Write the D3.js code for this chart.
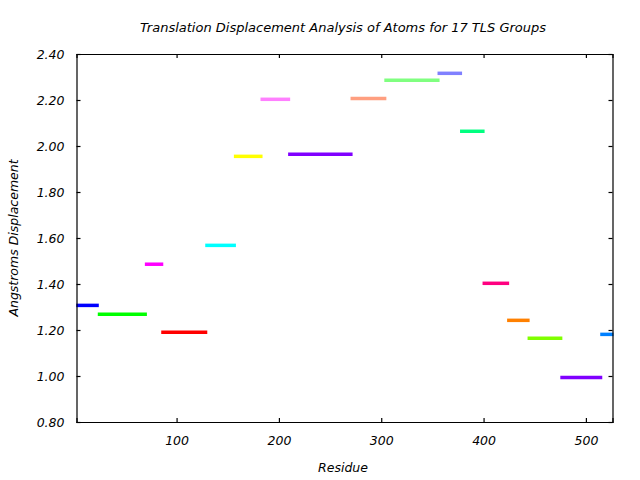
<!DOCTYPE html>
<html><head><meta charset="utf-8">
<script src="https://cdn.jsdelivr.net/npm/d3@7"></script>
<style>body{margin:0;background:#fff}svg{display:block}text{font-family:"DejaVu Sans",sans-serif;font-style:italic;fill:#000}</style>
</head><body>
<script>
const groupStart = [2, 23, 69, 85, 128, 156, 182, 209, 270, 303, 355, 377, 399, 423, 443, 475, 514];
const groupEnd   = [24, 71, 87, 130, 158, 184, 211, 272, 305, 357, 379, 401, 425, 445, 477, 516, 527];
const displacement = [1.307, 1.268, 1.486, 1.19, 1.568, 1.955, 2.203, 1.964, 2.207, 2.286, 2.316, 2.064, 1.403, 1.242, 1.164, 0.994, 1.181];
const groupColors = ["#0000ff","#00ff00","#ff00ff","#ff0000","#00ffff","#ffff00","#ff80ff","#8000ff","#ff9f80","#80ff80","#8080ff","#00ff80","#ff0080","#ff8000","#80ff00","#8000ff","#0080ff"];
const xTicks = [100, 200, 300, 400, 500];
const yTicks = [0.8, 1.0, 1.2, 1.4, 1.6, 1.8, 2.0, 2.2, 2.4];

const W = 640, H = 480;
const L = 76.5, R = 612.5, T = 54, B = 422;
const svg = d3.select("body").append("svg").attr("width", W).attr("height", H);
const x = d3.scaleLinear().domain([2.2, 526]).range([L, R]);
const y = d3.scaleLinear().domain([0.8, 2.4]).range([B, T]);

svg.append("g").selectAll("line").data(displacement).join("line")
  .attr("x1", (d, i) => x(groupStart[i]))
  .attr("x2", (d, i) => x(groupEnd[i]))
  .attr("y1", d => y(d)).attr("y2", d => y(d))
  .attr("stroke", (d, i) => groupColors[i])
  .attr("stroke-width", 3.5);

const fmt = d3.format(".2f");
const gBottom = svg.append("g").attr("transform", `translate(0,${B})`)
  .call(d3.axisBottom(x).tickValues(xTicks).tickSize(-4).tickPadding(14).tickFormat(d3.format("d")));
const gTop = svg.append("g").attr("transform", `translate(0,${T})`)
  .call(d3.axisTop(x).tickValues(xTicks).tickSize(-4).tickFormat(""));
const gLeft = svg.append("g").attr("transform", `translate(${L},0)`)
  .call(d3.axisLeft(y).tickValues(yTicks).tickSize(-4).tickPadding(12).tickFormat(fmt));
const gRight = svg.append("g").attr("transform", `translate(${R},0)`)
  .call(d3.axisRight(y).tickValues(yTicks).tickSize(-4).tickFormat(""));
[gBottom, gTop, gLeft, gRight].forEach(g => {
  g.select(".domain").attr("stroke", "#000").attr("stroke-width", 1.2);
  g.selectAll(".tick line").attr("stroke", "#000").attr("stroke-width", 1.2);
  g.selectAll("text").attr("font-family", "DejaVu Sans, sans-serif").attr("font-style", "italic").attr("font-size", 12.5).attr("fill", "#000");
});

svg.append("text").attr("x", 343).attr("y", 32).attr("text-anchor", "middle").attr("font-size", 13)
  .text("Translation Displacement Analysis of Atoms for 17 TLS Groups");
svg.append("text").attr("x", 343).attr("y", 472).attr("text-anchor", "middle").attr("font-size", 12.5).text("Residue");
svg.append("text").attr("transform", "translate(18,238) rotate(-90)").attr("text-anchor", "middle").attr("font-size", 12.5)
  .text("Angstroms Displacement");
</script>
</body></html>
